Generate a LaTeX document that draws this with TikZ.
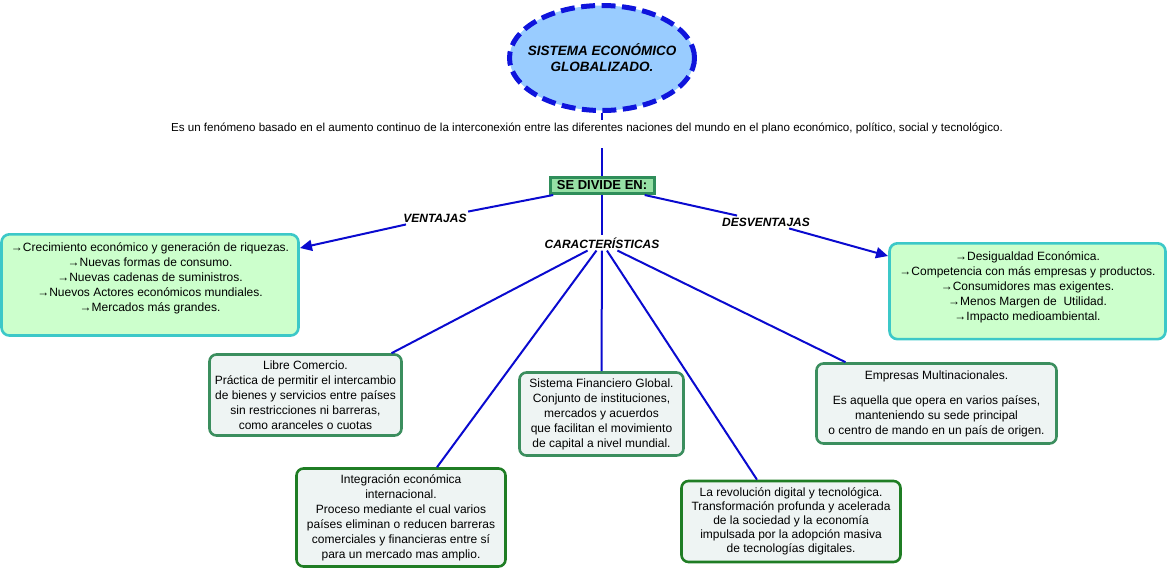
\documentclass[tikz,border=0pt]{standalone}
\usepackage{fontspec}
\setmainfont{Liberation Sans}
\usetikzlibrary{arrows.meta,shapes.geometric,calc}
\definecolor{wire}{HTML}{0A0ACF}
\definecolor{sky}{HTML}{99CCFF}
\definecolor{rim}{HTML}{0F14DC}
\definecolor{mint}{HTML}{CCFFCC}
\definecolor{turq}{HTML}{3CC8C8}
\definecolor{leaf}{HTML}{96E0A5}
\definecolor{sea}{HTML}{2F8E5A}
\definecolor{paper}{HTML}{EEF4F3}
\definecolor{fern}{HTML}{3B8E5E}
\definecolor{forest}{HTML}{1F7D24}

\begin{document}
\begin{tikzpicture}[x=1pt,y=-1pt,every node/.style={align=center,font=\fontsize{12}{15}\selectfont},
  wirestyle/.style={wire,line width=2pt},
  tipped/.style={-{Triangle[length=12pt,width=11pt]}},
  tag/.style={font=\fontsize{12}{14}\selectfont\bfseries\itshape,inner sep=2pt},
  listbox/.style={draw=turq,fill=mint,line width=2.6pt,rounded corners=8pt,inner ysep=8pt,anchor=north},
  infobox/.style={draw=fern,fill=paper,line width=2.6pt,rounded corners=7pt}]
\useasboundingbox (0,0) rectangle (1167,571);
\node[ellipse,draw=rim,fill=sky,line width=5pt,dash pattern=on 14pt off 6.5pt,inner sep=0pt,minimum width=185pt,minimum height=105pt,font=\fontsize{13.5}{16}\selectfont\bfseries\itshape] (sys) at (602,58) {\makebox[110pt]{SISTEMA ECONÓMICO}\\\makebox[110pt]{GLOBALIZADO.}};
\node[draw=sea,fill=leaf,line width=3pt,minimum width=104pt,minimum height=16pt,inner sep=1pt,font=\fontsize{13}{15}\selectfont\bfseries] (divide) at (602,185.5) {SE DIVIDE EN:};
\draw[wirestyle] (sys) -- (divide);
\node[fill=white,inner sep=2pt,text depth=15pt,anchor=base,font=\fontsize{11.6}{14}\selectfont] (desc) at (587,131) {Es un fenómeno basado en el aumento continuo de la interconexión entre las diferentes naciones del mundo en el plano económico, político, social y tecnológico.};
\node[tag] (pros) at (435,218) {VENTAJAS};
\node[tag] (cons) at (766,222) {DESVENTAJAS};
\node[tag] (traits) at (602,243) {CARACTERÍSTICAS};
\node[listbox,minimum width=297pt,text depth=16.4pt] (prosbox) at (150,233) {→Crecimiento económico y generación de riquezas.\\→Nuevas formas de consumo.\\→Nuevas cadenas de suministros.\\→Nuevos Actores económicos mundiales.\\→Mercados más grandes.};
\node[listbox,minimum width=276pt,text depth=11pt] (consbox) at (1027.5,242) {→Desigualdad Económica.\\→Competencia con más empresas y productos.\\→Consumidores mas exigentes.\\→Menos Margen de\ \ Utilidad.\\→Impacto medioambiental.};
\coordinate (prostip) at (300,248);
\coordinate (constip) at (888,256);
\node[infobox,minimum width=192pt,minimum height=81pt] (libre) at (305.5,395) {Libre Comercio.\\Práctica de permitir el intercambio\\de bienes y servicios entre países\\sin restricciones ni barreras,\\como aranceles o cuotas};
\node[infobox,minimum width=164pt,minimum height=83pt] (sistema) at (601.5,414) {Sistema Financiero Global.\\Conjunto de instituciones,\\mercados y acuerdos\\que facilitan el movimiento\\de capital a nivel mundial.};
\node[infobox,minimum width=240pt,minimum height=80pt] (empresas) at (936.5,403.5) {Empresas Multinacionales.\\[10pt]Es aquella que opera en varios países,\\manteniendo su sede principal\\o centro de mando en un país de origen.};
\node[infobox,draw=forest,minimum width=209pt,minimum height=98pt] (integ) at (401,517.5) {Integración económica\\internacional.\\Proceso mediante el cual varios\\países eliminan o reducen barreras\\comerciales y financieras entre sí\\para un mercado mas amplio.};
\node[infobox,draw=forest,minimum width=219pt,minimum height=81pt,font=\fontsize{12}{14}\selectfont] (revol) at (791,521.5) {La revolución digital y tecnológica.\\Transformación profunda y acelerada\\de la sociedad y la economía\\impulsada por la adopción masiva\\de tecnologías digitales.};
\draw[wirestyle] (divide) -- (pros);
\draw[wirestyle,tipped] (pros) -- (prostip);
\draw[wirestyle] (divide) -- (cons);
\draw[wirestyle,tipped] (cons) -- (constip);
\draw[wirestyle] (divide) -- (traits);
\foreach \dest/\dx in {libre/86,integ/36,sistema/0,revol/-34,empresas/-91}{\draw[wirestyle] (traits) -- ($(\dest.north)+(\dx,0)$);}
\end{tikzpicture}
\end{document}
